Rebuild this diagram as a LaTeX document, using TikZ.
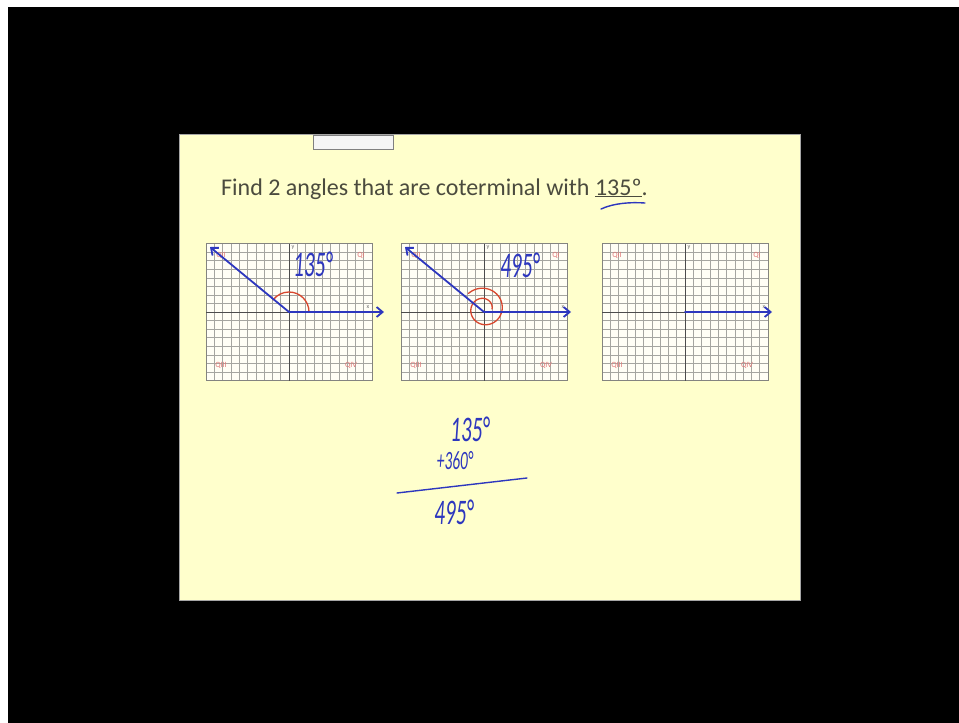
\documentclass[tikz,border=0pt]{standalone}
\usepackage{fontspec}
\setmainfont{Carlito}
\usetikzlibrary{arrows.meta,positioning}
\definecolor{cotYellow}{RGB}{255,255,204}
\definecolor{cotInk}   {RGB}{ 45, 55,190}
\definecolor{cotRed}   {RGB}{215, 70, 45}
\definecolor{cotPink}  {RGB}{225,120,120}
\definecolor{cotText}  {RGB}{ 75, 75, 62}
\definecolor{cotGrid}  {RGB}{165,165,160}
\newcommand{\handtxt}[1]{\scalebox{0.7}[1.2]{#1}}

\begin{document}
\begin{tikzpicture}[
  x=1pt, y=-1pt,
  >=Stealth,
  gridline/.style={cotGrid, line width=0.45pt},
  gridframe/.style={draw=cotGrid!80!black, line width=0.8pt},
  axis/.style={black!70, line width=0.9pt},
  quad/.style={font=\fontsize{8}{8}\selectfont, text=cotPink, inner sep=0pt},
  axlabel/.style={font=\fontsize{6}{6}\selectfont, text=black!60, inner sep=0pt},
  ray/.style={cotInk, line width=1.8pt, line cap=round, -{Straight Barb[length=6pt,width=10pt]}},
  redink/.style={cotRed, line width=1.3pt, line cap=round},
  inkline/.style={cotInk, line width=1.4pt, line cap=round},
  hand/.style={text=cotInk, font=\fontsize{30}{30}\selectfont\itshape, inner sep=0pt},
  titletext/.style={text=cotText, font=\fontsize{24}{24}\selectfont, inner sep=0pt},
]
  \useasboundingbox (0,0) rectangle (959,723);
  % Screen and slide
  \fill[white] (0,0) rectangle (959,723);
  \fill[black] (8,7) rectangle (959,723);
  \draw[fill=cotYellow, draw=gray!70] (179,134) rectangle (800,600);
  \draw[fill=white!92!gray, draw=gray] (313,135) rectangle (393,149);

  % Title
  \node[titletext, anchor=base west] (title) at (221,195)
    {Find 2 angles that are coterminal with \underline{135º}.};
  \draw[inkline] (601,209) .. controls (614,203) and (631,202) .. (645,203);

  % Coordinate grids
  \foreach \p/\cx in {a/289, b/484, c/685}{
    \begin{scope}[shift={(\cx,312)}]
      \fill[white!96!yellow] (-83,-68.5) rectangle (83,68.5);
      \foreach \i in {-10,...,10}
        \draw[gridline] (\i*8.3,-68.5) -- (\i*8.3,68.5);
      \foreach \j in {-8,...,8}
        \draw[gridline] (-83,\j*8.5625) -- (83,\j*8.5625);
      \draw[gridframe] (-83,-68.5) rectangle (83,68.5);
      \draw[axis] (-83,0) -- (83,0);
      \draw[axis] (0,-68.5) -- (0,68.5);
      \node[axlabel] (y\p) at (4,-64) {y};
      \node[axlabel] (x\p) at (79,-5) {x};
      \node[quad] (q2\p) at (-68,-57) {QII};
      \node[quad] (q1\p) at (72,-57) {QI};
      \node[quad] (q3\p) at (-68,53) {QIII};
      \node[quad] (q4\p) at (62,53) {QIV};
      \coordinate (o\p) at (0,0);
    \end{scope}
  }

  % Grid 1: 135 degrees
  \coordinate (ta) at (210,247);
  \coordinate (ea) at (384,312);
  \draw[redink] (oa) ++(20,0) arc[start angle=0, end angle=-143, radius=20];
  \draw[ray] (oa) -- (ta);
  \draw[ray] (oa) -- (ea);
  \node[hand] (anga) at (313,264) {\handtxt{135°}};

  % Grid 2: 495 degrees
  \coordinate (tb) at (405,247);
  \coordinate (eb) at (571,312);
  \begin{scope}[shift={(484,309)}]
    \draw[redink] plot[domain=0:495, samples=140]
      ({(8+14*\x/495)*cos(\x)}, {-(8+14*\x/495)*sin(\x)});
  \end{scope}
  \draw[ray] (ob) -- (tb);
  \draw[ray] (ob) -- (eb);
  \node[hand] (angb) at (520,265) {\handtxt{495°}};

  % Grid 3: initial side only
  \coordinate (ec) at (772,312);
  \draw[ray] (oc) -- (ec);

  % Working
  \node[hand] (suma) at (470,429) {\handtxt{135°}};
  \node[hand, font=\fontsize{22}{22}\selectfont\itshape] (sumb) at (455,461) {\handtxt{+360°}};
  \coordinate (rulea) at (397,493);
  \coordinate (ruleb) at (527,478);
  \draw[inkline] (rulea) -- (ruleb);
  \node[hand] (sumc) at (454,512) {\handtxt{495°}};

\end{tikzpicture}
\end{document}
